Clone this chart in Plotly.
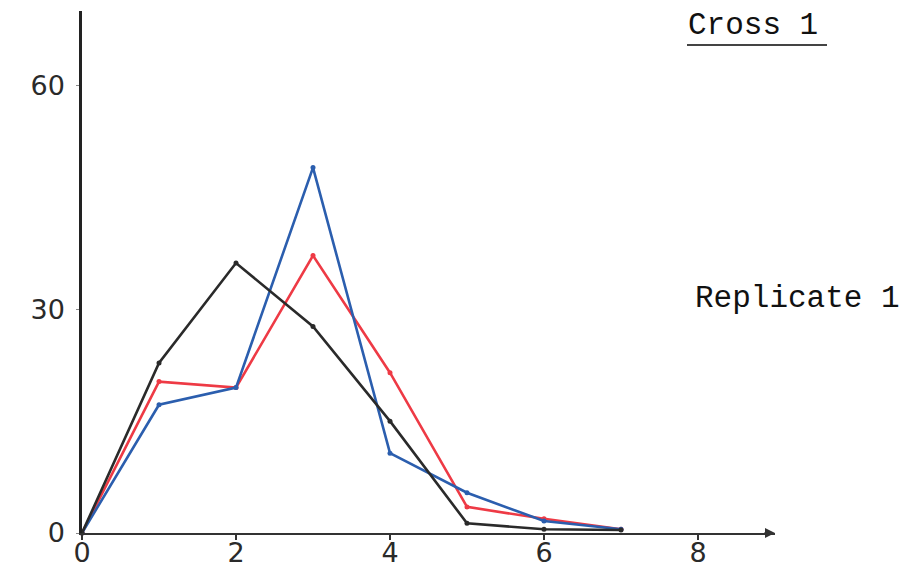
import plotly.graph_objects as go

classes = [0, 1, 2, 3, 4, 5, 6, 7]
black_vals = [0, 22.8, 36.2, 27.7, 15.0, 1.3, 0.5, 0.4]
red_vals = [0, 20.3, 19.5, 37.2, 21.5, 3.5, 1.9, 0.5]
blue_vals = [0, 17.2, 19.5, 49.0, 10.7, 5.4, 1.6, 0.5]

x_ticks = [0, 2, 4, 6, 8]
y_ticks = [0, 30, 60]
title_text = "Cross 1"
side_text = "Replicate 1"

W, H = 912, 575
ML, MR, MT, MB = 82, 137, 11, 42
pw = W - ML - MR
ph = H - MT - MB


def px_x(p):
    return (p - ML) / pw


def px_y(p):
    return 1 - (p - MT) / ph


fig = go.Figure()
for vals, col in [(red_vals, "#ee3a45"), (blue_vals, "#2b5eae"), (black_vals, "#2a2a2a")]:
    fig.add_trace(go.Scatter(
        x=classes, y=vals, mode="lines+markers",
        line=dict(color=col, width=2.6),
        marker=dict(color=col, size=5),
        showlegend=False, cliponaxis=False,
    ))

num_font = dict(family="DejaVu Sans", size=27, color="#2a2a2a")

fig.update_layout(
    width=W, height=H,
    margin=dict(l=ML, r=MR, t=MT, b=MB),
    paper_bgcolor="white", plot_bgcolor="white",
    xaxis=dict(range=[0, 9.0], tickvals=x_ticks, ticktext=[str(v) for v in x_ticks],
               showgrid=False, zeroline=False, showline=True, linecolor="#333",
               linewidth=2, ticks="outside", ticklen=5, tickwidth=2, tickcolor="#333",
               tickfont=num_font, automargin=False, ticklabelstandoff=-10),
    yaxis=dict(range=[0, 70], tickvals=y_ticks, ticktext=[str(v) for v in y_ticks],
               showgrid=False, zeroline=False, showline=True, linecolor="#222",
               linewidth=2.5, ticks="outside", ticklen=3, tickwidth=1, tickcolor="#888",
               tickfont=num_font, automargin=False, ticklabelstandoff=6),
)

# arrow head on x axis
fig.add_annotation(x=9.0, y=0, xref="x", yref="y", ax=-12, ay=0, text="",
                   showarrow=True, arrowhead=2, arrowsize=1, arrowwidth=2, arrowcolor="#333")

fig.add_annotation(x=px_x(753), y=px_y(25), xref="paper", yref="paper", text=title_text,
                   xanchor="center", yanchor="middle",
                   showarrow=False, font=dict(family="Liberation Mono", size=31, color="#111"))
fig.add_annotation(x=px_x(797), y=px_y(298), xref="paper", yref="paper", text=side_text,
                   xanchor="center", yanchor="middle",
                   showarrow=False, font=dict(family="Liberation Mono", size=31, color="#111"))

fig.add_shape(type="line", xref="paper", yref="paper",
              x0=px_x(687), x1=px_x(827), y0=px_y(45), y1=px_y(45),
              line=dict(color="#444", width=2))

fig.write_html("out.html")
